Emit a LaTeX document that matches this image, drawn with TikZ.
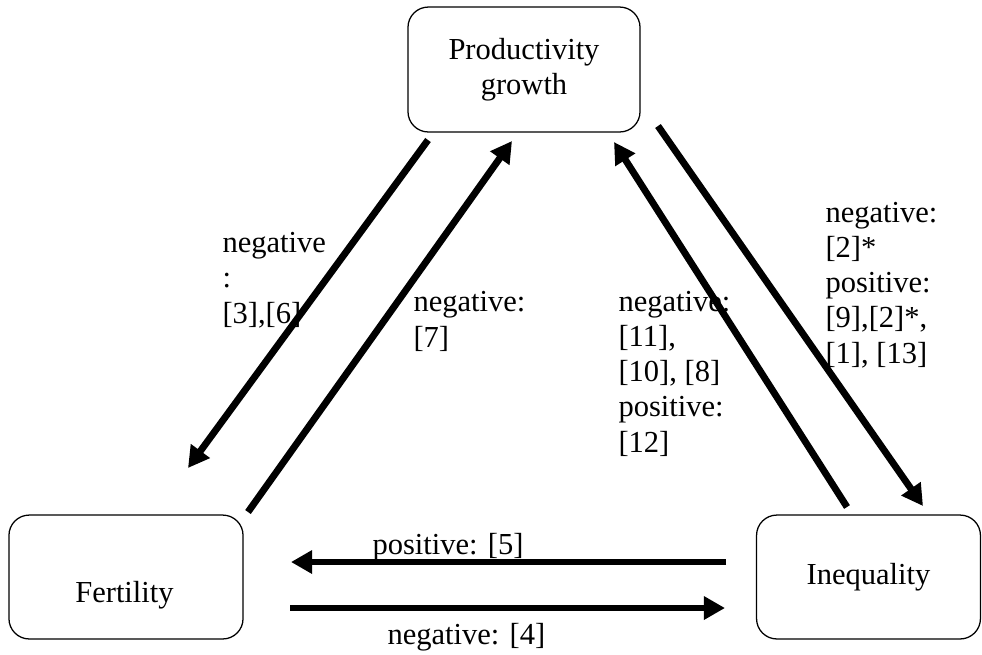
\documentclass[tikz,border=0pt]{standalone}
\usepackage{fontspec}
\setmainfont{Liberation Serif}
\usetikzlibrary{arrows.meta}

\begin{document}
\begin{tikzpicture}[x=0.393pt,y=-0.393pt,
  font=\fontsize{12pt}{13.8pt}\selectfont,
  box/.style={draw,line width=0.5pt,rounded corners=8pt,inner sep=0pt,align=center},
  link/.style={line width=2.7pt,-{Triangle[length=8.3pt,width=8.8pt]}},
  note/.style={anchor=base west,inner sep=0pt,align=left}]

  \useasboundingbox (0,0) rectangle (982,654);

  % the three boxes
  \node[box,minimum width=91.2pt,minimum height=49.1pt] (prod) at (524,69.5)
    {Productivity\\growth};
  \node[box,minimum width=92pt,minimum height=48.7pt] (fert) at (126,577) {};
  \node[anchor=base,inner sep=0pt] (fertlbl) at (124.5,602) {Fertility};
  \node[box,minimum width=88pt,minimum height=48.7pt] (ineq) at (868.5,577)
    {Inequality};

  % end points of the arrows
  \coordinate (pf0) at (428,140);  \coordinate (pf1) at (188,468);
  \coordinate (fp0) at (248,512);  \coordinate (fp1) at (512,141);
  \coordinate (ip0) at (847,507);  \coordinate (ip1) at (614,142);
  \coordinate (pi0) at (658,126);  \coordinate (pi1) at (923,506);
  \coordinate (if0) at (726,562);  \coordinate (if1) at (291,562);
  \coordinate (fi0) at (290,608);  \coordinate (fi1) at (725,608);

  % arrows
  \draw[link] (pf0) -- (pf1);
  \draw[link] (fp0) -- (fp1);
  \draw[link] (ip0) -- (ip1);
  \draw[link] (pi0) -- (pi1);
  \draw[link] (if0) -- (if1);
  \draw[link] (fi0) -- (fi1);

  % labels (placed at the baseline of their last line)
  \node[note] (pflbl) at (222,323) {negative\\:\\{}[3],[6]};
  \node[note] (fplbl) at (413,347) {negative:\\{}[7]};
  \node[note] (iplbl) at (618,452) {negative:\\{}[11],\\{}[10], [8]\\positive:\\{}[12]};
  \node[note] (pilbl) at (825,363) {negative:\\{}[2]*\\positive:\\{}[9],[2]*,\\{}[1], [13]};
  \node[note] (iflbl) at (372,554) {positive: [5]};
  \node[note] (filbl) at (387,644) {negative: [4]};

\end{tikzpicture}
\end{document}
